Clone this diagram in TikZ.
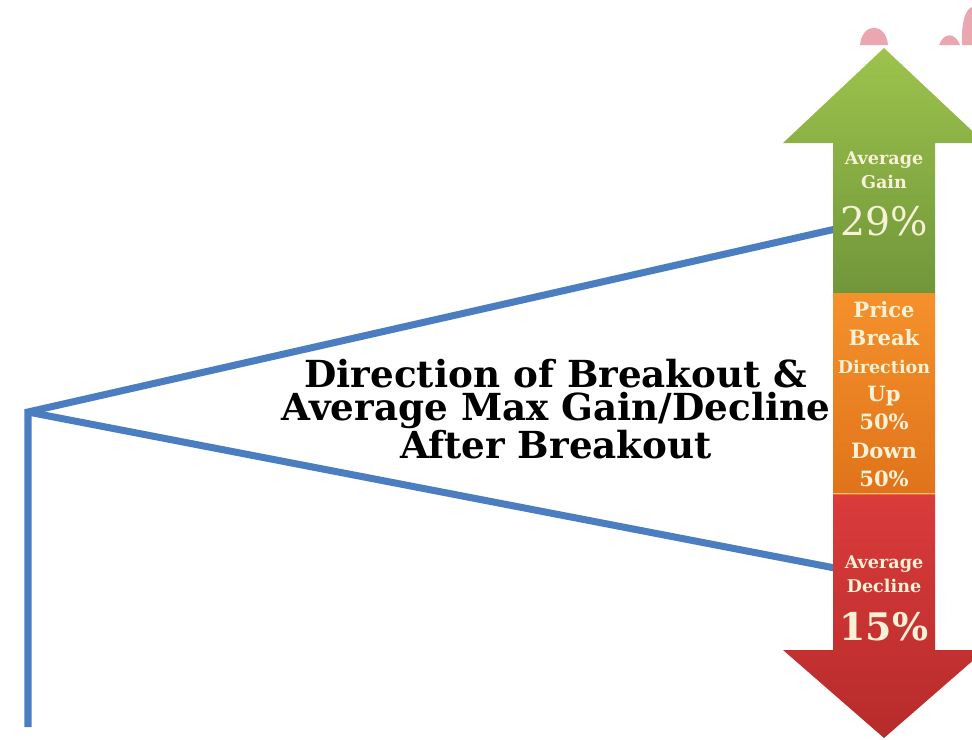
\documentclass[tikz,border=0pt]{standalone}
\usepackage{fontspec}
\setmainfont{DejaVu Serif}
\usetikzlibrary{positioning}
\definecolor{trendblue}{HTML}{4A7EC0}
\definecolor{gainlight}{HTML}{9DC34D}
\definecolor{gaindark}{HTML}{70963A}
\definecolor{breaklight}{HTML}{F5912C}
\definecolor{breakdark}{HTML}{E0731A}
\definecolor{declinelight}{HTML}{DA3B3B}
\definecolor{declinedark}{HTML}{B72B2B}
\definecolor{labelcream}{HTML}{F7F1D6}
\definecolor{markpink}{HTML}{EAA7AF}

\tikzset{
  trend/.style={trendblue,line width=5pt,line cap=butt,line join=miter},
  smalltag/.style={labelcream,font=\bfseries\fontsize{12.5}{17}\selectfont,
    align=center,inner sep=0pt},
  pcttag/.style={labelcream,font=\fontsize{28}{30}\selectfont,inner sep=0pt},
  titletext/.style={black,font=\bfseries\fontsize{26.5}{23}\selectfont,
    align=center,inner sep=0pt}
}

\begin{document}
\begin{tikzpicture}[x=0.25mm,y=-0.25mm]
  \useasboundingbox (0,0) rectangle (972,739);
  \clip (0,0) rectangle (972,739);
  \fill[white] (0,0) rectangle (972,739);

  % watermark fragments, top right
  \fill[markpink] (860,45) .. controls (862,22) and (886,22) .. (888,45) -- cycle;
  \fill[markpink] (939,45) .. controls (944,32) and (955,32) .. (960,45) -- cycle;
  \fill[markpink] (962,45) .. controls (961,15) and (968,6) .. (976,6) -- (976,45) -- cycle;

  \coordinate (apex) at (28,412);
  \coordinate (foot) at (28,727);
  \coordinate (gainend) at (840,228);
  \coordinate (declineend) at (840,569);

  \draw[trend] (foot) -- (apex) -- (gainend);
  \draw[trend] (apex) -- (declineend);

  % the up/down arrow
  \shade[top color=gainlight,bottom color=gaindark]
    (884,48) -- (985,143) -- (935,143) -- (935,293) -- (833,293)
    -- (833,143) -- (783,143) -- cycle;
  \shade[top color=breaklight,bottom color=breakdark]
    (833,293) rectangle (935,495);
  \shade[top color=declinelight,bottom color=declinedark]
    (833,495) -- (935,495) -- (935,650) -- (985,650) -- (884,738)
    -- (783,650) -- (833,650) -- cycle;
  \draw[breaklight!60!white,line width=0.6pt] (833,493) -- (935,493);

  \node[smalltag] (gaintag) at (884,170) {Average\\Gain};
  \node[pcttag,below=12pt of gaintag] (gainpct) {29\%};

  \node[smalltag,font=\bfseries\fontsize{15}{20}\selectfont] (breaktag) at (884,394)
    {Price\\Break\\{\fontsize{12.5}{20}\selectfont Direction}\\Up\\50\%\\Down\\50\%};

  \node[smalltag] (declinetag) at (884,574) {Average\\Decline};
  \node[pcttag,font=\bfseries\fontsize{27}{30}\selectfont,below=14pt of declinetag]
    (declinepct) {15\%};

  \node[titletext] (title) at (556,409)
    {Direction of Breakout \&\\Average Max Gain/Decline\\After Breakout};
\end{tikzpicture}
\end{document}
